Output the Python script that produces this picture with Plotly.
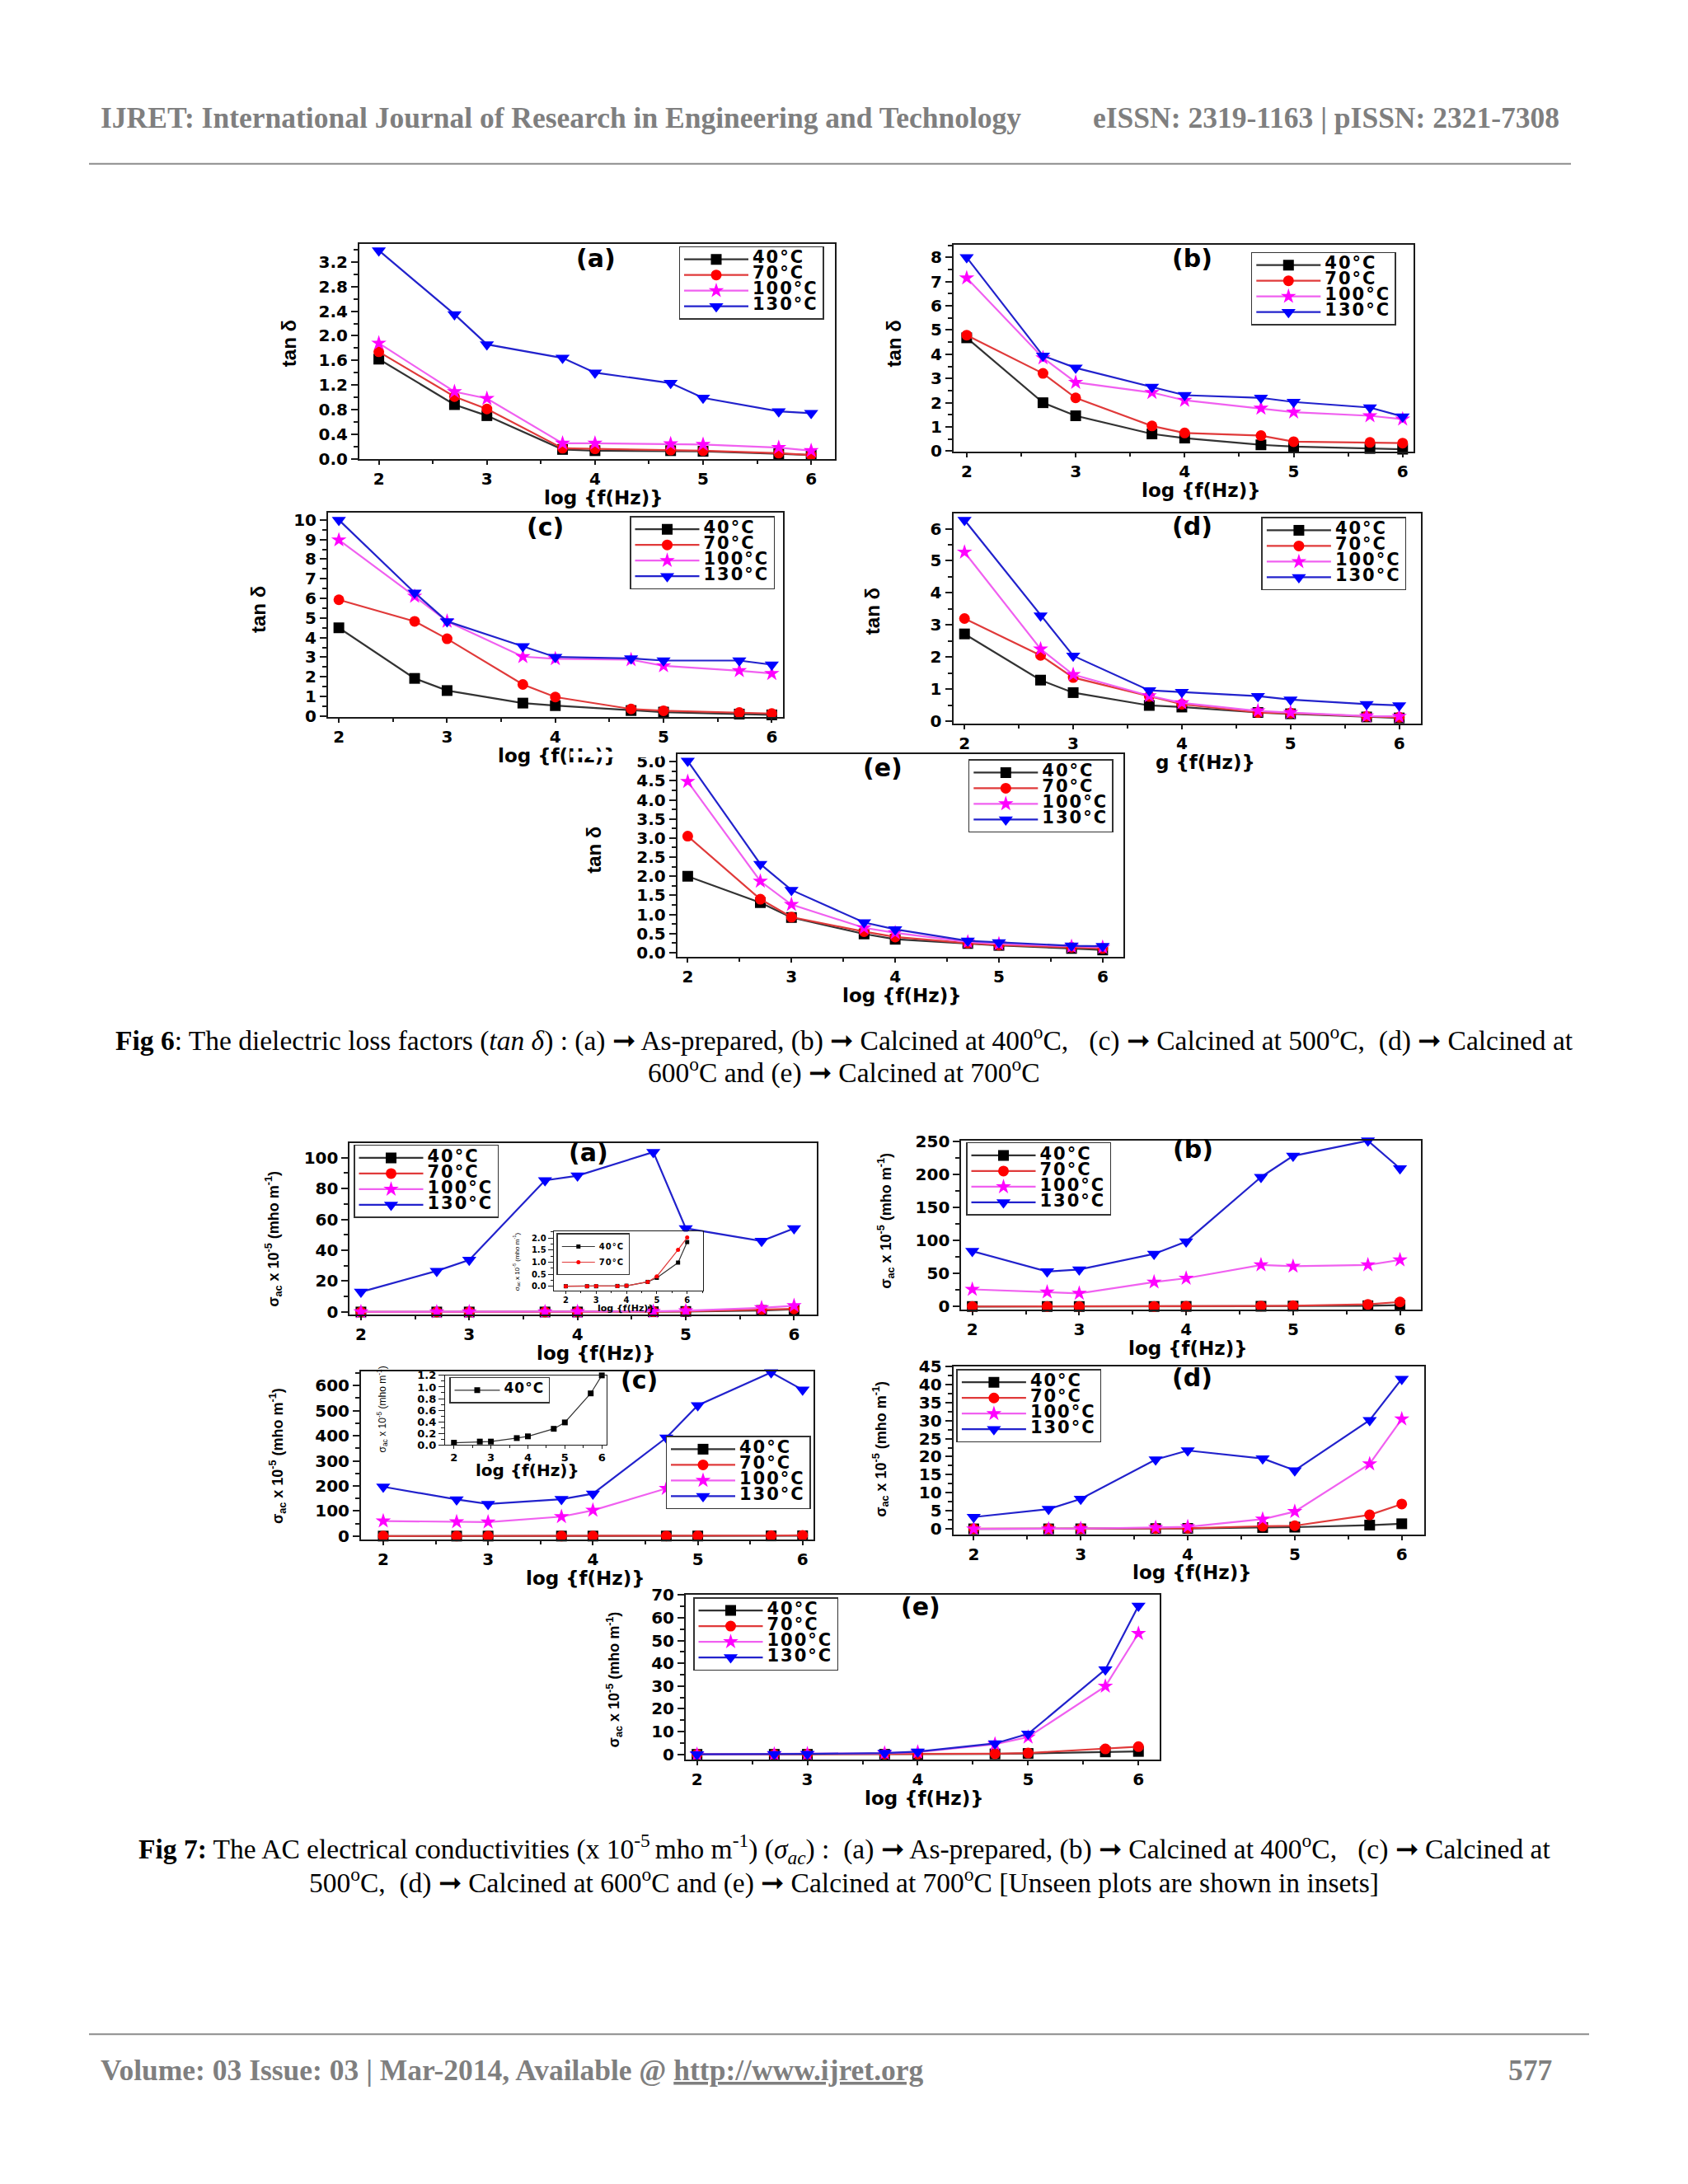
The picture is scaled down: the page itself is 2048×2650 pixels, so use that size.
import plotly.graph_objects as go

W, H = 2048, 2650

# ---------------- data ----------------
LOG_F = [2.0, 2.7, 3.0, 3.7, 4.0, 4.7, 5.0, 5.7, 6.0]
TEMPS = ["40°C", "70°C", "100°C", "130°C"]

# Fig 6 : tan delta
T6A_40 = [1.62, 0.88, 0.70, 0.15, 0.13, 0.13, 0.12, 0.08, 0.06]
T6A_70 = [1.74, 1.01, 0.81, 0.17, 0.16, 0.14, 0.13, 0.09, 0.06]
T6A_100 = [1.88, 1.09, 0.98, 0.25, 0.25, 0.24, 0.23, 0.18, 0.13]
T6A_130 = [3.39, 2.35, 1.86, 1.64, 1.40, 1.23, 0.99, 0.77, 0.74]

T6B_40 = [4.68, 2.00, 1.46, 0.71, 0.54, 0.26, 0.19, 0.11, 0.08]
T6B_70 = [4.79, 3.21, 2.20, 1.04, 0.75, 0.64, 0.39, 0.36, 0.33]
T6B_100 = [7.15, 3.85, 2.84, 2.42, 2.10, 1.77, 1.61, 1.46, 1.32]
T6B_130 = [8.00, 3.94, 3.44, 2.65, 2.31, 2.20, 2.03, 1.80, 1.43]

T6C_40 = [4.50, 1.92, 1.30, 0.66, 0.53, 0.28, 0.20, 0.10, 0.06]
T6C_70 = [5.93, 4.83, 3.94, 1.61, 0.97, 0.36, 0.27, 0.18, 0.13]
T6C_100 = [8.98, 6.11, 4.83, 3.03, 2.92, 2.87, 2.56, 2.31, 2.17]
T6C_130 = [10.0, 6.29, 4.83, 3.55, 3.01, 2.94, 2.83, 2.83, 2.62]

T6D_40 = [2.72, 1.28, 0.89, 0.49, 0.44, 0.27, 0.23, 0.13, 0.10]
T6D_70 = [3.20, 2.05, 1.36, 0.77, 0.53, 0.27, 0.25, 0.15, 0.12]
T6D_100 = [5.27, 2.25, 1.45, 0.79, 0.57, 0.32, 0.27, 0.16, 0.15]
T6D_130 = [6.27, 3.29, 2.04, 0.96, 0.91, 0.78, 0.67, 0.53, 0.49]

T6E_40 = [2.00, 1.31, 0.92, 0.49, 0.35, 0.24, 0.19, 0.11, 0.07]
T6E_70 = [3.05, 1.40, 0.93, 0.55, 0.41, 0.25, 0.20, 0.14, 0.11]
T6E_100 = [4.48, 1.87, 1.26, 0.65, 0.52, 0.28, 0.23, 0.16, 0.14]
T6E_130 = [5.02, 2.32, 1.64, 0.79, 0.61, 0.31, 0.27, 0.18, 0.17]

# Fig 7 : sigma_ac x 1e-5 (mho/m)
S7A_40 = [0.0, 0.0, 0.0, 0.01, 0.02, 0.18, 0.35, 0.98, 1.83]
S7A_70 = [0.0, 0.0, 0.01, 0.01, 0.02, 0.18, 0.41, 1.51, 2.02]
S7A_100 = [0.1, 0.1, 0.1, 0.15, 0.2, 0.4, 0.8, 2.7, 4.1]
S7A_130 = [13.0, 26.6, 33.7, 85.3, 88.3, 103.6, 54.2, 46.0, 54.2]

S7B_40 = [0.05, 0.05, 0.05, 0.1, 0.2, 0.4, 0.7, 1.2, 2.0]
S7B_70 = [0.1, 0.1, 0.1, 0.2, 0.3, 0.8, 1.2, 3.3, 7.0]
S7B_100 = [26.0, 22.0, 20.0, 37.0, 42.8, 63.0, 61.0, 63.0, 70.6]
S7B_130 = [83.9, 53.0, 56.0, 79.7, 98.4, 196.0, 228.0, 251.0, 209.0]

S7C_40 = [0.04, 0.06, 0.06, 0.12, 0.15, 0.28, 0.39, 0.89, 1.20]
S7C_70 = [0.2, 0.2, 0.2, 0.3, 0.4, 0.7, 1.0, 2.0, 3.0]
S7C_100 = [60.0, 57.0, 56.0, 77.6, 102.7, 190.0, 178.0, 154.0, 158.0]
S7C_130 = [196.7, 146.0, 128.0, 147.0, 169.0, 392.0, 521.0, 652.0, 583.0]

S7D_40 = [0.02, 0.02, 0.03, 0.1, 0.15, 0.4, 0.5, 1.06, 1.44]
S7D_70 = [0.05, 0.05, 0.05, 0.1, 0.2, 0.76, 0.9, 3.9, 6.9]
S7D_100 = [0.0, 0.0, 0.1, 0.4, 0.6, 2.7, 4.8, 18.0, 30.4]
S7D_130 = [3.3, 5.5, 8.3, 19.2, 21.7, 19.5, 16.2, 30.1, 41.5]

S7E_40 = [0.01, 0.02, 0.03, 0.05, 0.1, 0.2, 0.4, 1.1, 1.3]
S7E_70 = [0.02, 0.03, 0.05, 0.1, 0.15, 0.3, 0.6, 2.4, 3.4]
S7E_100 = [0.0, 0.1, 0.2, 0.5, 1.0, 4.5, 7.6, 29.9, 53.1]
S7E_130 = [0.0, 0.1, 0.2, 0.6, 1.2, 4.8, 9.0, 37.3, 65.2]


# ---------------- geometry helpers (page pixels -> paper) ----------------
def fx(p):
    return (p - 10) / W


def fy(p):
    q = p - 18 + 17 * (p - 142) / 2373
    return 1 - q / H


STY = [
    dict(line="#333333", sym="square", mc="#000000", size=13),
    dict(line="#e03a3a", sym="circle", mc="#ff0000", size=13),
    dict(line="#f060f0", sym="star", mc="#ff00ff", size=14),
    dict(line="#2222cc", sym="triangle-down", mc="#0000ff", size=15),
]

TICKF = dict(family="DejaVu Sans", size=20, color="black", weight="bold")
AXT_FONT = dict(family="DejaVu Sans", size=23, color="black", weight="bold")
YT_FAMILY = "Liberation Sans, Arial, sans-serif"
SIG_LABEL = "σ<sub>ac</sub> x 10<sup>-5</sup> (mho m<sup>-1</sup>)"


def legname(name, fs, ls):
    return f'<span style="font-size:{fs}px;letter-spacing:{ls}px">{name}</span>'


PANELS = [
    dict(box=(438, 295, 1015, 557), xr=[1.82, 6.22], yr=[-0.01, 3.5], dt=0.4, mdt=0.2, fmt=".1f",
         data=[T6A_40, T6A_70, T6A_100, T6A_130], leg=(825.5, 298), lab=("(a)", 725, 313),
         xl=("log {f(Hz)}", 734), yl=("tan δ", 352, 416.7, 24)),
    dict(box=(1159, 296.7, 1717, 548), xr=[1.88, 6.1], yr=[-0.03, 8.51], dt=1, mdt=0.5, fmt="",
         data=[T6B_40, T6B_70, T6B_100, T6B_130], leg=(1519.8, 305), lab=("(b)", 1448, 313),
         xl=("log {f(Hz)}", 1459), yl=("tan δ", 1086, 417, 24)),
    dict(box=(400, 621.7, 951.5, 870), xr=[1.90, 6.10], yr=[-0.04, 10.38], dt=1, mdt=0.5, fmt="",
         data=[T6C_40, T6C_70, T6C_100, T6C_130], leg=(766, 626), lab=("(c)", 663, 639),
         xl=("log {f(Hz)}", 678), yl=("tan δ", 316, 740, 24)),
    dict(box=(1158.5, 622.7, 1726, 878), xr=[1.896, 6.2], yr=[-0.07, 6.48], dt=1, mdt=0.5, fmt="",
         data=[T6D_40, T6D_70, T6D_100, T6D_130], leg=(1532.4, 627.3), lab=("(d)", 1448, 638),
         xl=("g {f(Hz)}", 1464), yl=("tan δ", 1060.5, 741.7, 24)),
    dict(box=(823.8, 915.7, 1365, 1161.7), xr=[1.9, 6.2], yr=[-0.11, 5.19], dt=0.5, mdt=0.25, fmt=".1f",
         data=[T6E_40, T6E_70, T6E_100, T6E_130], leg=(1176.8, 921.7), lab=("(e)", 1072.5, 932),
         xl=("log {f(Hz)}", 1096.7), yl=("tan δ", 722.6, 1031.7, 24)),
    dict(box=(426.4, 1387.7, 993, 1596.7), xr=[1.897, 6.21], yr=[-1.8, 109.6], dt=20, mdt=10, fmt="",
         data=[S7A_40, S7A_70, S7A_100, S7A_130], leg=(431, 1390), lab=("(a)", 716, 1400),
         xl=("log {f(Hz)}", 725), yl=(SIG_LABEL, 334, 1505, 18)),
    dict(box=(1168.3, 1385, 1726, 1590.7), xr=[1.897, 6.196], yr=[-5, 251.2], dt=50, mdt=25, fmt="",
         data=[S7B_40, S7B_70, S7B_100, S7B_130], leg=(1174, 1387), lab=("(b)", 1449.5, 1396),
         xl=("log {f(Hz)}", 1443), yl=(SIG_LABEL, 1077, 1483, 18)),
    dict(box=(440, 1665, 988.5, 1870), xr=[1.788, 6.1], yr=[-14.2, 658], dt=100, mdt=50, fmt="",
         data=[S7C_40, S7C_70, S7C_100, S7C_130], leg=(809.5, 1744), lab=("(c)", 777, 1676),
         xl=("log {f(Hz)}", 712), yl=(SIG_LABEL, 338.7, 1768, 18)),
    dict(box=(1158.7, 1659.3, 1730, 1863.3), xr=[1.81, 6.21], yr=[-1.44, 45.0], dt=5, mdt=2.5, fmt="",
         data=[S7D_40, S7D_70, S7D_100, S7D_130], leg=(1162.4, 1662.7), lab=("(d)", 1448.6, 1673),
         xl=("log {f(Hz)}", 1448.6), yl=(SIG_LABEL, 1070.4, 1760, 18)),
    dict(box=(834, 1936.7, 1408.7, 2137.3), xr=[1.898, 6.19], yr=[-2.3, 70.2], dt=10, mdt=5, fmt="",
         data=[S7E_40, S7E_70, S7E_100, S7E_130], leg=(843, 1940), lab=("(e)", 1119, 1951.7),
         xl=("log {f(Hz)}", 1123.7), yl=(SIG_LABEL, 747.5, 2040, 18)),
]

INSETS = [
    dict(box=(673.7, 1495.7, 854.5, 1567.3), xr=[1.6, 6.51], yr=[-0.18, 2.26], dt=0.5, mdt=0.25, fmt=".1f",
         data=[S7A_40, S7A_70], sty=[dict(line="#333333", sym="square", mc="#000000", size=5),
                                     dict(line="#e03a3a", sym="circle", mc="#ff0000", size=5)],
         leg=(677.3, 1497.7), legfs=10, itemw=40, tfs=10, tl=3,
         xl=("log {f(Hz)}", 761.4, 1589, 11), yl=(SIG_LABEL, 628.7, 1531.7, 8)),
    dict(box=(542, 1670, 738, 1755), xr=[1.76, 6.13], yr=[0, 1.205], dt=0.2, mdt=0.1, fmt=".1f",
         data=[S7C_40], sty=[dict(line="#333333", sym="square", mc="#000000", size=7)],
         leg=(547, 1672.3), legfs=17, itemw=55, tfs=13, tl=4,
         xl=("log {f(Hz)}", 642, 1786, 20), yl=(SIG_LABEL, 466, 1712, 12)),
]

fig = go.Figure()
layout = dict(width=W, height=H, margin=dict(l=0, r=0, t=0, b=0),
              paper_bgcolor="white", plot_bgcolor="white", showlegend=True)
annotations = []
shapes = []


def add_axes(n, box, xr, yr, dt, mdt, fmt, tfs, tl, lw, xstand):
    l, t, r, b = box
    sfx = "" if n == 1 else str(n)
    tf = dict(TICKF)
    tf["size"] = tfs
    common = dict(showline=True, linecolor="#1a1a1a", linewidth=lw, mirror=True,
                  showgrid=False, zeroline=False, ticks="outside", tickcolor="#1a1a1a",
                  tickwidth=lw, tickfont=tf)
    layout["xaxis" + sfx] = dict(common, domain=[fx(l), fx(r)], anchor="y" + sfx,
                                 range=xr, tick0=2, dtick=1, ticklen=tl, ticklabelstandoff=xstand,
                                 minor=dict(dtick=0.5, ticklen=max(2, tl - 1), tickwidth=lw,
                                            tickcolor="#1a1a1a", ticks="outside"))
    layout["yaxis" + sfx] = dict(common, domain=[fy(b), fy(t)], anchor="x" + sfx,
                                 range=yr, tick0=0, dtick=dt, ticklen=tl + 3, tickformat=fmt,
                                 minor=dict(dtick=mdt, ticklen=max(2, tl), tickwidth=lw,
                                            tickcolor="#1a1a1a", ticks="outside"))


def add_legend(n, pos, basefs, itemw):
    lname = "legend" if n == 1 else f"legend{n}"
    layout[lname] = dict(x=fx(pos[0]), y=fy(pos[1]), xanchor="left", yanchor="top",
                         bgcolor="white", bordercolor="#333333", borderwidth=1.5,
                         font=dict(family="DejaVu Sans", size=basefs, color="black", weight="bold"),
                         itemwidth=itemw, tracegroupgap=0, valign="middle")
    return lname


n = 0
for p in PANELS:
    n += 1
    sfx = "" if n == 1 else str(n)
    add_axes(n, p["box"], p["xr"], p["yr"], p["dt"], p["mdt"], p["fmt"], 20, 5, 2, 0)
    lname = add_legend(n, p["leg"], 12, 78)
    for vals, name, s in zip(p["data"], TEMPS, STY):
        fig.add_trace(go.Scatter(
            x=LOG_F, y=vals, mode="lines+markers", name=legname(name, 21, 2),
            xaxis="x" + sfx, yaxis="y" + sfx, legend=lname, cliponaxis=False,
            line=dict(color=s["line"], width=2.2),
            marker=dict(symbol=s["sym"], size=s["size"], color=s["mc"], line=dict(width=0))))
    annotations.append(dict(text=p["lab"][0], x=fx(p["lab"][1]), y=fy(p["lab"][2]),
                            font=dict(family="DejaVu Sans", size=30, color="black", weight="bold")))
    annotations.append(dict(text=p["xl"][0], x=fx(p["xl"][1]), y=fy(p["box"][3] + 47),
                            font=AXT_FONT))
    annotations.append(dict(text=p["yl"][0], x=fx(p["yl"][1]), y=fy(p["yl"][2]), textangle=-90,
                            font=dict(family=YT_FAMILY, size=p["yl"][3], color="black",
                                      weight="bold")))

for p in INSETS:
    n += 1
    sfx = str(n)
    add_axes(n, p["box"], p["xr"], p["yr"], p["dt"], p["mdt"], p["fmt"], p["tfs"], p["tl"], 1.2, -1)
    lname = add_legend(n, p["leg"], 8, p["itemw"])
    for vals, name, s in zip(p["data"], TEMPS, p["sty"]):
        fig.add_trace(go.Scatter(
            x=LOG_F, y=vals, mode="lines+markers", name=legname(name, p["legfs"], 1),
            xaxis="x" + sfx, yaxis="y" + sfx, legend=lname, cliponaxis=False,
            line=dict(color=s["line"], width=1.2),
            marker=dict(symbol=s["sym"], size=s["size"], color=s["mc"], line=dict(width=0))))
    annotations.append(dict(text=p["xl"][0], x=fx(p["xl"][1]), y=fy(p["xl"][2]),
                            font=dict(AXT_FONT, size=p["xl"][3])))
    annotations.append(dict(text=p["yl"][0], x=fx(p["yl"][1]), y=fy(p["yl"][2]), textangle=-90,
                            font=dict(family=YT_FAMILY, size=p["yl"][3], color="black")))

# white background of panel (e) hiding part of the (c) x-axis title
annotations.append(dict(text=" ", x=fx(694), y=fy(912), xanchor="left", yanchor="top",
                        width=110, height=7, bgcolor="white", borderwidth=0, borderpad=0))

# page header / footer
HEAD_FONT = dict(family="Liberation Serif, Times New Roman, serif", size=35.5, color="#7f7f7f", weight="bold")
annotations += [
    dict(text="IJRET: International Journal of Research in Engineering and Technology",
         x=fx(122), y=fy(142), xanchor="left", font=HEAD_FONT),
    dict(text="eISSN: 2319-1163 | pISSN: 2321-7308",
         x=fx(1896), y=fy(142), xanchor="right", font=HEAD_FONT),
    dict(text="Volume: 03 Issue: 03 | Mar-2014, Available @ <u>http://www.ijret.org</u>",
         x=fx(122), y=fy(2515), xanchor="left", font=HEAD_FONT),
    dict(text="577", x=fx(1887), y=fy(2515), xanchor="right", font=HEAD_FONT),
]
CAP_FONT = dict(family="Liberation Serif, Times New Roman, serif", size=33.5, color="black")
FIG6_CAP = [
    "<b>Fig 6</b>: The dielectric loss factors (<i>tan δ</i>) : (a) ➞ As-prepared, "
    "(b) ➞ Calcined at 400<sup>o</sup>C,   (c) ➞ Calcined at 500<sup>o</sup>C,  (d) ➞ Calcined at",
    "600<sup>o</sup>C and (e) ➞ Calcined at 700<sup>o</sup>C",
]
FIG7_CAP = [
    "<b>Fig 7:</b> The AC electrical conductivities (x 10<sup>-5 </sup>mho m<sup>-1</sup>) "
    "(<i>σ<sub>ac</sub></i>) :  (a) ➞ As-prepared, (b) ➞ Calcined at 400<sup>o</sup>C,   (c) ➞ Calcined at",
    "500<sup>o</sup>C,  (d) ➞ Calcined at 600<sup>o</sup>C and (e) ➞ Calcined at 700<sup>o</sup>C "
    "[Unseen plots are shown in insets]",
]
for txt, yy in zip(FIG6_CAP + FIG7_CAP, [1261, 1300, 2246, 2285]):
    annotations.append(dict(text=txt, x=fx(1026), y=fy(yy), font=CAP_FONT))

for a in annotations:
    a.setdefault("xref", "paper")
    a.setdefault("yref", "paper")
    a.setdefault("showarrow", False)
    a.setdefault("xanchor", "center")
    a.setdefault("yanchor", "middle")

shapes += [
    dict(type="line", xref="paper", yref="paper", x0=fx(110), x1=fx(1908), y0=fy(198), y1=fy(198),
         line=dict(color="#8c8c8c", width=2)),
    dict(type="line", xref="paper", yref="paper", x0=fx(110), x1=fx(1930), y0=fy(2471), y1=fy(2471),
         line=dict(color="#8c8c8c", width=2)),
]

layout["annotations"] = annotations
layout["shapes"] = shapes
fig.update_layout(**layout)
fig.write_html("out.html", config={"displayModeBar": False})
